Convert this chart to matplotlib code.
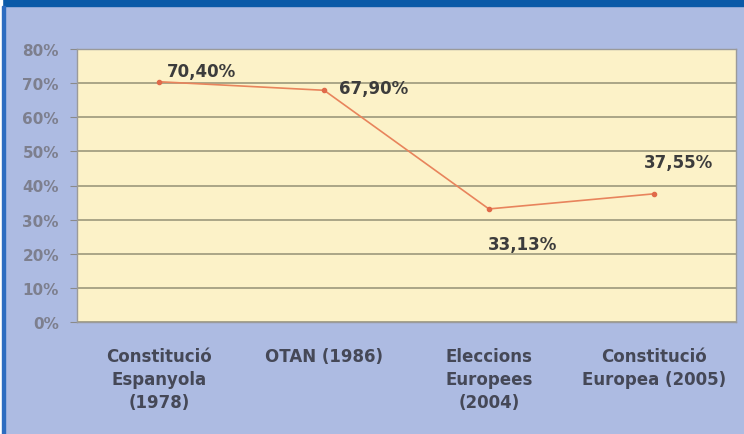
import matplotlib.pyplot as plt
from matplotlib.patches import Rectangle

plt.rcParams['font.family'] = ['DejaVu Sans']

# dades
categories = ['Constitució\nEspanyola\n(1978)', 'OTAN (1986)',
              'Eleccions\nEuropees\n(2004)', 'Constitució\nEuropea (2005)']
valors = [70.40, 67.90, 33.13, 37.55]
etiquetes = ['70,40%', '67,90%', '33,13%', '37,55%']
yticks = [0, 10, 20, 30, 40, 50, 60, 70, 80]

W, H = 744, 435
fig = plt.figure(figsize=(W / 100, H / 100), dpi=100)
fig.patch.set_facecolor('#adbbe2')

# marcs blaus
fig.patches.append(Rectangle((0, 1 - 7 / H), 1, 7 / H, transform=fig.transFigure,
                             color='#0b5aa8', zorder=0))
fig.patches.append(Rectangle((0, 0), 2 / W, 1, transform=fig.transFigure,
                             color='white', zorder=0))
fig.patches.append(Rectangle((2 / W, 0), 3 / W, 1 - 7 / H, transform=fig.transFigure,
                             color='#2d6cc0', zorder=0))

ax = fig.add_axes([77 / W, 1 - 323 / H, (736 - 77) / W, (323 - 50) / H])
ax.set_facecolor('#fcf2c8')

x = range(len(categories))
ax.plot(x, valors, color='#e8845c', lw=1.2, marker='o', ms=3,
        markerfacecolor='#e06a4a', markeredgecolor='#e06a4a', zorder=3)

ax.set_xlim(-0.5, len(categories) - 0.5)
ax.set_ylim(0, 80)
ax.set_yticks(yticks)
ax.set_yticklabels(['%d%%' % t for t in yticks], color='#7d7f8e',
                   fontsize=11, fontweight='bold')
ax.set_xticks(list(x))
ax.set_xticklabels(categories, color='#454857', fontsize=12,
                   fontweight='bold', linespacing=1.35)
ax.tick_params(axis='x', length=0, pad=18)
ax.tick_params(axis='y', length=5, color='#8a8a8a', pad=8)
ax.yaxis.grid(True, color='#9c987c', lw=1.2)
ax.set_axisbelow(True)
for s in ax.spines.values():
    s.set_color('#9a9a9a')
    s.set_linewidth(1)

# etiquetes de dades (desplaçament en punts)
despl = [(30, 8), (36, 2), (24, -25), (18, 23)]
for i, (v, t) in enumerate(zip(valors, etiquetes)):
    ax.annotate(t, (i, v), xytext=despl[i], textcoords='offset points',
                ha='center', va='center', fontsize=12, fontweight='bold',
                color='#3c3c3c')

fig.savefig('out.png', dpi=100, facecolor=fig.get_facecolor())
